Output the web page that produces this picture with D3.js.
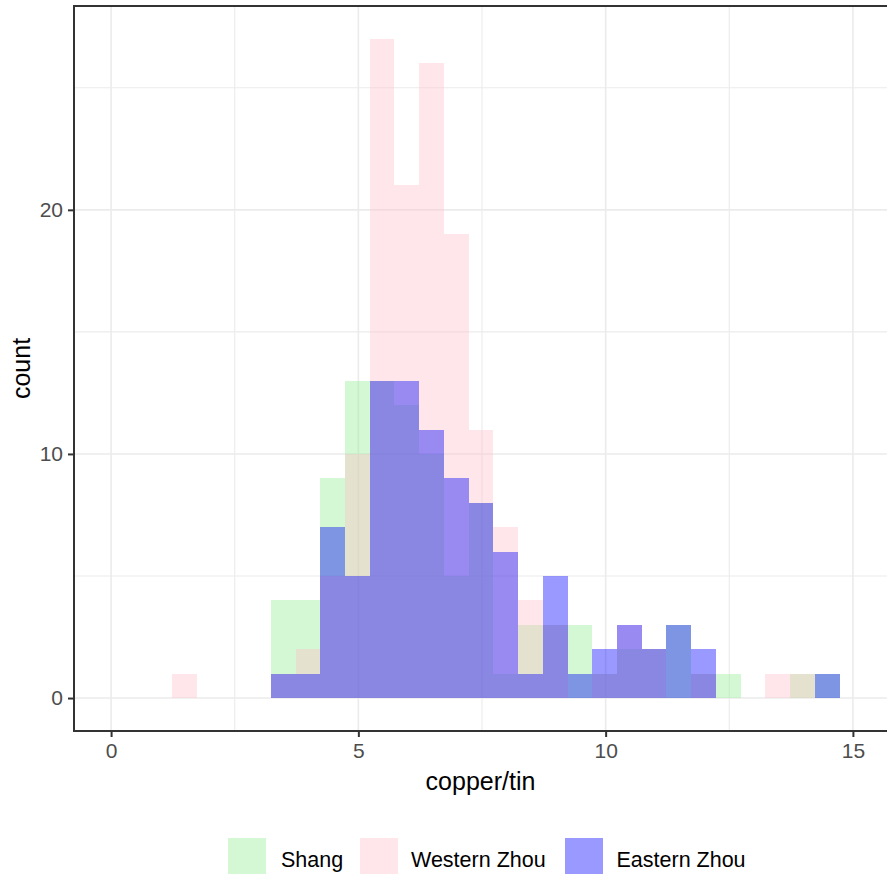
<!DOCTYPE html>
<html>
<head>
<meta charset="utf-8">
<script src="https://cdn.jsdelivr.net/npm/d3@7"></script>
<style>
  html, body { margin: 0; padding: 0; background: #fff; }
  svg { display: block; font-family: "Liberation Sans", Arial, sans-serif; }
</style>
</head>
<body>
<svg id="chart" width="887" height="874"></svg>
<script>
// Histogram of copper/tin ratios, bin width 0.5
const binStarts = [1.23, 1.73, 2.23, 2.73, 3.23, 3.73, 4.23, 4.73, 5.23, 5.73,
                   6.23, 6.73, 7.23, 7.73, 8.23, 8.73, 9.23, 9.73, 10.23, 10.73,
                   11.23, 11.73, 12.23, 12.73, 13.23, 13.73, 14.23];
const binWidth = 0.5;

const shangCounts       = [0, 0, 0, 0, 4, 4, 9, 13, 13, 12, 10, 5, 8, 1, 3, 3, 3, 1, 2, 2, 3, 1, 1, 0, 0, 1, 1];
const westernZhouCounts = [1, 0, 0, 0, 1, 2, 5, 10, 27, 21, 26, 19, 11, 7, 4, 3, 0, 1, 3, 2, 0, 1, 0, 0, 1, 1, 0];
const easternZhouCounts = [0, 0, 0, 0, 1, 1, 7, 5, 13, 13, 11, 9, 8, 6, 1, 5, 1, 2, 3, 2, 3, 2, 0, 0, 0, 0, 1];

const seriesNames  = ["Shang", "Western Zhou", "Eastern Zhou"];
const seriesColors = ["#90EE90", "#FFC0CB", "#0000FF"];
const seriesCounts = [shangCounts, westernZhouCounts, easternZhouCounts];
const fillAlpha = 0.4;

const xMajorTicks = [0, 5, 10, 15];
const xMinorTicks = [2.5, 7.5, 12.5];
const yMajorTicks = [0, 10, 20];
const yMinorTicks = [5, 15, 25];

const xTitle = "copper/tin";
const yTitle = "count";

// panel geometry
const panel = { left: 74, right: 890, top: 6, bottom: 731 };

const svg = d3.select("#chart");

const x = d3.scaleLinear().domain([-0.75, 15.75]).range([panel.left, panel.right]);
const y = d3.scaleLinear().domain([-1.35, 28.35]).range([panel.bottom, panel.top]);

// grid
const grid = svg.append("g");
grid.selectAll(".xminor").data(xMinorTicks).join("line")
  .attr("x1", d => x(d)).attr("x2", d => x(d))
  .attr("y1", panel.top).attr("y2", panel.bottom)
  .attr("stroke", "#EBEBEB").attr("stroke-width", 1.1);
grid.selectAll(".yminor").data(yMinorTicks).join("line")
  .attr("y1", d => y(d)).attr("y2", d => y(d))
  .attr("x1", panel.left).attr("x2", panel.right)
  .attr("stroke", "#EBEBEB").attr("stroke-width", 1.1);
grid.selectAll(".xmajor").data(xMajorTicks).join("line")
  .attr("x1", d => x(d)).attr("x2", d => x(d))
  .attr("y1", panel.top).attr("y2", panel.bottom)
  .attr("stroke", "#EBEBEB").attr("stroke-width", 1.6);
grid.selectAll(".ymajor").data(yMajorTicks).join("line")
  .attr("y1", d => y(d)).attr("y2", d => y(d))
  .attr("x1", panel.left).attr("x2", panel.right)
  .attr("stroke", "#EBEBEB").attr("stroke-width", 1.6);

// bars, drawn in series order with overlapping translucent fills
seriesCounts.forEach((counts, si) => {
  const bins = binStarts.map((b, i) => ({ x0: b, x1: b + binWidth, n: counts[i] }))
                        .filter(d => d.n > 0);
  svg.append("g")
    .attr("shape-rendering", "crispEdges")
    .selectAll("rect").data(bins).join("rect")
    .attr("x", d => x(d.x0))
    .attr("width", d => x(d.x1) - x(d.x0))
    .attr("y", d => y(d.n))
    .attr("height", d => y(0) - y(d.n))
    .attr("fill", seriesColors[si])
    .attr("fill-opacity", fillAlpha);
});

// panel border
svg.append("rect")
  .attr("x", panel.left).attr("y", panel.top)
  .attr("width", panel.right - panel.left).attr("height", panel.bottom - panel.top)
  .attr("fill", "none").attr("stroke", "#333333").attr("stroke-width", 2);

// axes
const xAxis = d3.axisBottom(x).tickValues(xMajorTicks).tickSize(6).tickPadding(6);
const gx = svg.append("g").attr("transform", `translate(0,${panel.bottom})`).call(xAxis);
const yAxis = d3.axisLeft(y).tickValues(yMajorTicks).tickSize(6).tickPadding(5);
const gy = svg.append("g").attr("transform", `translate(${panel.left},0)`).call(yAxis);
[gx, gy].forEach(g => {
  g.select(".domain").remove();
  g.selectAll(".tick line").attr("stroke", "#333333").attr("stroke-width", 2);
  g.selectAll(".tick text").attr("fill", "#4D4D4D")
    .style("font-size", "21px").style("font-family", "Liberation Sans, Arial, sans-serif");
});

// axis titles
svg.append("text")
  .attr("x", 480.5).attr("y", 790)
  .attr("text-anchor", "middle").attr("fill", "#000")
  .style("font-size", "25px").text(xTitle);
svg.append("text")
  .attr("transform", `translate(30,${(panel.top + panel.bottom) / 2}) rotate(-90)`)
  .attr("text-anchor", "middle").attr("fill", "#000")
  .style("font-size", "25px").text(yTitle);

// legend
const keySize = 38;
const legendTop = 838;
const legendItems = [
  { name: seriesNames[0], color: seriesColors[0], keyX: 228, textX: 281 },
  { name: seriesNames[1], color: seriesColors[1], keyX: 360, textX: 411 },
  { name: seriesNames[2], color: seriesColors[2], keyX: 565, textX: 616.5 }
];
const legend = svg.append("g");
legendItems.forEach(it => {
  legend.append("rect")
    .attr("x", it.keyX).attr("y", legendTop)
    .attr("width", keySize).attr("height", keySize)
    .attr("fill", it.color).attr("fill-opacity", fillAlpha);
  legend.append("text")
    .attr("x", it.textX).attr("y", 866.5)
    .attr("fill", "#000").style("font-size", "21.5px").text(it.name);
});
</script>
</body>
</html>
